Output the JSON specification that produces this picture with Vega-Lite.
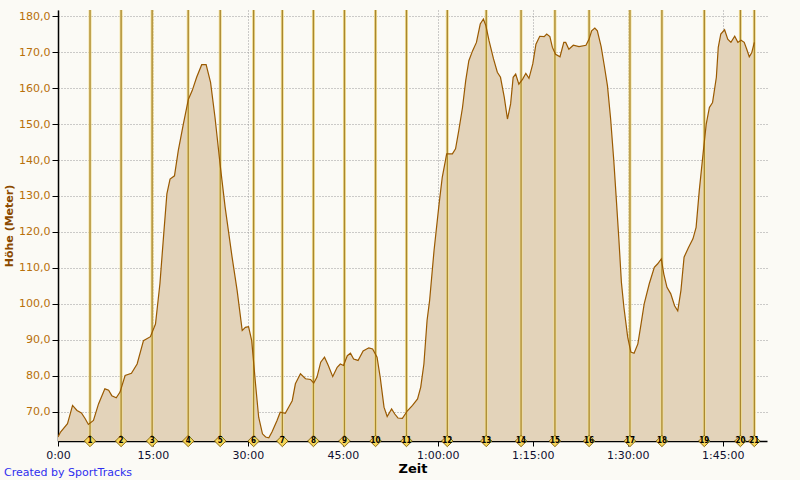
{
  "$schema": "https://vega.github.io/schema/vega-lite/v6.json",
  "width": 709,
  "height": 431,
  "autosize": {"type": "none"},
  "padding": {"left": 58, "top": 10, "right": 33, "bottom": 39},
  "background": "#FBFAF5",
  "config": {
    "view": {"stroke": null, "fill": "#FBFAF5"},
    "font": "DejaVu Sans"
  },
  "title": {
    "text": "Created by SportTracks",
    "orient": "bottom",
    "anchor": "start",
    "frame": "group",
    "dx": -54,
    "dy": -12,
    "color": "#2F2FEF",
    "fontSize": 11,
    "fontWeight": "normal",
    "font": "DejaVu Sans"
  },
  "datasets": {
    "profile": [
      {"t": 0.0, "h": 63.0}, {"t": 0.4, "h": 64.4}, {"t": 1.5, "h": 66.7}, {"t": 2.3, "h": 71.8},
      {"t": 3.0, "h": 70.4}, {"t": 3.7, "h": 69.7}, {"t": 4.3, "h": 68.1}, {"t": 4.8, "h": 66.5},
      {"t": 5.6, "h": 67.6}, {"t": 6.4, "h": 72.2}, {"t": 7.4, "h": 76.4}, {"t": 8.0, "h": 76.0},
      {"t": 8.5, "h": 74.5}, {"t": 9.2, "h": 73.9}, {"t": 9.8, "h": 75.5}, {"t": 10.6, "h": 80.1},
      {"t": 11.6, "h": 80.7}, {"t": 12.5, "h": 83.3}, {"t": 13.5, "h": 89.8}, {"t": 14.6, "h": 90.9},
      {"t": 15.4, "h": 94.4}, {"t": 16.1, "h": 105.6}, {"t": 16.7, "h": 119.4}, {"t": 17.2, "h": 130.6},
      {"t": 17.7, "h": 134.7}, {"t": 18.4, "h": 135.6}, {"t": 19.0, "h": 142.6}, {"t": 19.8, "h": 150.0},
      {"t": 20.6, "h": 156.9}, {"t": 21.2, "h": 159.3}, {"t": 21.9, "h": 163.0}, {"t": 22.7, "h": 166.5},
      {"t": 23.4, "h": 166.5}, {"t": 24.1, "h": 161.6}, {"t": 24.8, "h": 151.9}, {"t": 25.6, "h": 138.9},
      {"t": 26.4, "h": 126.9}, {"t": 27.5, "h": 113.0}, {"t": 28.3, "h": 103.7}, {"t": 29.1, "h": 92.6},
      {"t": 29.6, "h": 93.5}, {"t": 30.1, "h": 93.7}, {"t": 30.6, "h": 89.8}, {"t": 31.2, "h": 77.8},
      {"t": 31.7, "h": 68.5}, {"t": 32.3, "h": 63.9}, {"t": 32.8, "h": 63.0}, {"t": 33.3, "h": 62.8},
      {"t": 33.8, "h": 64.4}, {"t": 34.6, "h": 67.6}, {"t": 35.1, "h": 69.9}, {"t": 35.9, "h": 69.6},
      {"t": 36.5, "h": 71.5}, {"t": 37.0, "h": 73.1}, {"t": 37.5, "h": 77.8}, {"t": 38.3, "h": 80.6},
      {"t": 39.1, "h": 79.2}, {"t": 39.9, "h": 79.0}, {"t": 40.4, "h": 78.0}, {"t": 40.9, "h": 79.6},
      {"t": 41.5, "h": 83.8}, {"t": 42.1, "h": 85.2}, {"t": 42.7, "h": 82.9}, {"t": 43.4, "h": 79.8},
      {"t": 44.1, "h": 82.4}, {"t": 44.6, "h": 83.3}, {"t": 45.1, "h": 82.9}, {"t": 45.7, "h": 85.6},
      {"t": 46.2, "h": 86.3}, {"t": 46.7, "h": 84.7}, {"t": 47.4, "h": 84.3}, {"t": 48.2, "h": 86.9},
      {"t": 49.1, "h": 87.8}, {"t": 49.7, "h": 87.5}, {"t": 50.4, "h": 85.2}, {"t": 50.9, "h": 79.6},
      {"t": 51.5, "h": 71.3}, {"t": 52.0, "h": 68.7}, {"t": 52.7, "h": 70.8}, {"t": 53.2, "h": 69.4},
      {"t": 53.7, "h": 68.3}, {"t": 54.4, "h": 68.2}, {"t": 55.2, "h": 70.3}, {"t": 56.0, "h": 71.8},
      {"t": 56.8, "h": 73.6}, {"t": 57.3, "h": 76.9}, {"t": 57.8, "h": 83.3}, {"t": 58.3, "h": 95.4},
      {"t": 58.7, "h": 100.9}, {"t": 59.4, "h": 114.8}, {"t": 60.2, "h": 127.8}, {"t": 60.7, "h": 135.2},
      {"t": 61.4, "h": 141.7}, {"t": 62.3, "h": 141.7}, {"t": 62.8, "h": 143.1}, {"t": 63.3, "h": 148.1},
      {"t": 63.9, "h": 154.6}, {"t": 64.4, "h": 162.0}, {"t": 64.9, "h": 167.6}, {"t": 65.5, "h": 170.4},
      {"t": 66.1, "h": 172.7}, {"t": 66.7, "h": 177.8}, {"t": 67.2, "h": 179.2}, {"t": 67.6, "h": 177.3},
      {"t": 68.1, "h": 173.1}, {"t": 68.8, "h": 168.1}, {"t": 69.4, "h": 164.4}, {"t": 69.9, "h": 163.0},
      {"t": 70.5, "h": 157.4}, {"t": 71.0, "h": 151.4}, {"t": 71.5, "h": 155.6}, {"t": 71.9, "h": 163.0},
      {"t": 72.3, "h": 163.9}, {"t": 72.8, "h": 161.1}, {"t": 73.4, "h": 162.5}, {"t": 73.9, "h": 164.1},
      {"t": 74.4, "h": 162.7}, {"t": 75.0, "h": 166.7}, {"t": 75.5, "h": 172.2}, {"t": 76.1, "h": 174.4},
      {"t": 76.8, "h": 174.3}, {"t": 77.2, "h": 175.0}, {"t": 77.7, "h": 174.3}, {"t": 78.1, "h": 171.3},
      {"t": 78.6, "h": 169.4}, {"t": 79.3, "h": 168.7}, {"t": 79.9, "h": 172.7}, {"t": 80.2, "h": 172.7},
      {"t": 80.7, "h": 170.8}, {"t": 81.4, "h": 171.9}, {"t": 82.3, "h": 171.5}, {"t": 83.4, "h": 171.9},
      {"t": 83.9, "h": 173.6}, {"t": 84.3, "h": 175.9}, {"t": 84.8, "h": 176.7}, {"t": 85.2, "h": 175.9},
      {"t": 85.8, "h": 171.5}, {"t": 86.3, "h": 166.2}, {"t": 86.8, "h": 160.6}, {"t": 87.3, "h": 151.4},
      {"t": 87.8, "h": 139.8}, {"t": 88.2, "h": 129.0}, {"t": 88.6, "h": 118.0}, {"t": 89.0, "h": 106.0},
      {"t": 89.4, "h": 99.0}, {"t": 90.0, "h": 90.7}, {"t": 90.5, "h": 86.6}, {"t": 91.0, "h": 86.3},
      {"t": 91.6, "h": 88.9}, {"t": 92.1, "h": 94.4}, {"t": 92.6, "h": 100.0}, {"t": 93.4, "h": 105.6},
      {"t": 94.2, "h": 110.2}, {"t": 94.7, "h": 111.1}, {"t": 95.3, "h": 112.5}, {"t": 95.7, "h": 108.3},
      {"t": 96.2, "h": 104.6}, {"t": 96.8, "h": 102.8}, {"t": 97.4, "h": 99.5}, {"t": 97.9, "h": 98.1},
      {"t": 98.4, "h": 103.7}, {"t": 98.9, "h": 113.0}, {"t": 99.6, "h": 115.7}, {"t": 100.3, "h": 118.1},
      {"t": 100.8, "h": 121.3}, {"t": 101.3, "h": 131.5}, {"t": 101.9, "h": 141.7}, {"t": 102.4, "h": 150.0},
      {"t": 102.9, "h": 154.6}, {"t": 103.4, "h": 156.0}, {"t": 104.0, "h": 163.0}, {"t": 104.3, "h": 171.3},
      {"t": 104.7, "h": 175.0}, {"t": 105.3, "h": 176.2}, {"t": 105.8, "h": 173.6}, {"t": 106.3, "h": 172.7},
      {"t": 106.9, "h": 174.4}, {"t": 107.4, "h": 172.7}, {"t": 107.9, "h": 173.3}, {"t": 108.4, "h": 172.7},
      {"t": 108.8, "h": 170.8}, {"t": 109.2, "h": 168.7}, {"t": 109.6, "h": 169.9}, {"t": 110.0, "h": 172.7}
    ],
    "laps": [
      {"t": 5.06, "lap": "1"}, {"t": 9.97, "lap": "2"}, {"t": 14.87, "lap": "3"}, {"t": 20.57, "lap": "4"},
      {"t": 25.63, "lap": "5"}, {"t": 30.9, "lap": "6"}, {"t": 35.44, "lap": "7"}, {"t": 40.35, "lap": "8"},
      {"t": 45.25, "lap": "9"}, {"t": 50.16, "lap": "10"}, {"t": 55.05, "lap": "11"}, {"t": 61.5, "lap": "12"},
      {"t": 67.65, "lap": "13"}, {"t": 73.15, "lap": "14"}, {"t": 78.5, "lap": "15"}, {"t": 83.9, "lap": "16"},
      {"t": 90.35, "lap": "17"}, {"t": 95.4, "lap": "18"}, {"t": 102.1, "lap": "19"}, {"t": 107.8, "lap": "20"},
      {"t": 110.0, "lap": "21"}
    ]
  },
  "layer": [
    {
      "data": {"name": "profile"},
      "mark": {"type": "area", "color": "#E3D3BA", "clip": true},
      "encoding": {
        "x": {
          "field": "t", "type": "quantitative",
          "scale": {"domain": [0, 112.0], "nice": false, "zero": false},
          "axis": {
            "title": "Zeit",
            "titleFontSize": 13, "titleFontWeight": "bold", "titleColor": "#000000", "titlePadding": 2,
            "values": [0, 15, 30, 45, 60, 75, 90, 105], "tickCount": 30,
            "labelExpr": "datum.value < 60 ? format(datum.value, 'd') + ':00' : floor(datum.value / 60) + ':' + format(datum.value % 60, '02d') + ':00'",
            "labelFontSize": 11, "labelColor": "#101030", "labelPadding": 3,
            "tickColor": "#000000", "tickSize": 5, "domainColor": "#000000", "domainWidth": 1.5,
            "grid": true, "gridColor": "#9A9A9A", "gridDash": [1, 2], "gridWidth": 1,
            "labelFlush": false, "labelOverlap": false
          }
        },
        "y": {
          "field": "h", "type": "quantitative",
          "scale": {"domain": [61.9, 181.7], "nice": false, "zero": false},
          "axis": {
            "title": "Höhe (Meter)",
            "titleFontSize": 11, "titleFontWeight": "bold", "titleColor": "#8B4A00", "titlePadding": 4,
            "values": [70, 80, 90, 100, 110, 120, 130, 140, 150, 160, 170, 180], "tickCount": 30,
            "labelExpr": "replace(format(datum.value, '.1f'), '.', ',')",
            "labelFontSize": 11, "labelColor": "#B8700A", "labelPadding": 2,
            "labelOverlap": false, "labelFlush": false,
            "tickColor": "#000000", "tickSize": 6, "domainColor": "#000000", "domainWidth": 1.5,
            "grid": true, "gridColor": "#9A9A9A", "gridDash": [1, 2], "gridWidth": 1
          }
        }
      }
    },
    {
      "data": {"name": "laps"},
      "mark": {"type": "rule", "color": "#F2DF95", "strokeWidth": 3},
      "encoding": {"x": {"field": "t", "type": "quantitative"}}
    },
    {
      "data": {"name": "laps"},
      "mark": {"type": "rule", "color": "#A88630", "strokeWidth": 1.3},
      "encoding": {"x": {"field": "t", "type": "quantitative"}}
    },
    {
      "data": {"name": "profile"},
      "mark": {"type": "line", "color": "#9A5A00", "strokeWidth": 1.2, "clip": true},
      "encoding": {
        "x": {"field": "t", "type": "quantitative"},
        "y": {"field": "h", "type": "quantitative"}
      }
    },
    {
      "data": {"name": "laps"},
      "mark": {"type": "point", "shape": "diamond", "filled": true, "fill": "#F6D65A", "stroke": "#8A6A14", "strokeWidth": 1, "size": 130, "opacity": 1},
      "encoding": {
        "x": {"field": "t", "type": "quantitative"},
        "y": {"value": "height"}
      }
    },
    {
      "data": {"name": "laps"},
      "mark": {"type": "text", "fontSize": 8, "fontWeight": "bold", "color": "#000000", "baseline": "middle", "align": "center", "font": "DejaVu Sans Condensed"},
      "encoding": {
        "x": {"field": "t", "type": "quantitative"},
        "y": {"value": "height"},
        "text": {"field": "lap"}
      }
    }
  ]
}
